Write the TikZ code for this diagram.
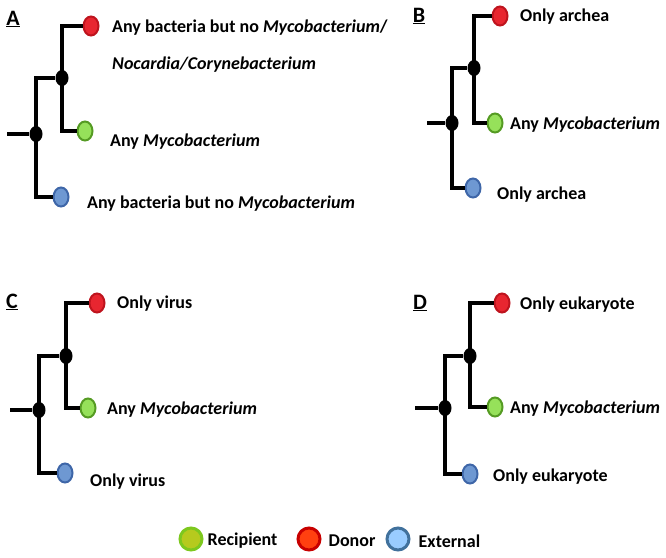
\documentclass[tikz,border=0pt]{standalone}
\usepackage{fontspec}
\setmainfont{Carlito}
\usepackage{tikz}
\usetikzlibrary{positioning, shapes.geometric}
\definecolor{donorfill}{RGB}{232,38,48}
\definecolor{donordraw}{RGB}{190,20,30}
\definecolor{recipfill}{RGB}{150,225,90}
\definecolor{recipdraw}{RGB}{85,155,35}
\definecolor{extfill}{RGB}{110,152,210}
\definecolor{extdraw}{RGB}{62,102,168}
\definecolor{keyrecipfill}{RGB}{182,202,30}
\definecolor{keyrecipdraw}{RGB}{125,200,30}
\definecolor{keydonorfill}{RGB}{255,64,16}
\definecolor{keydonordraw}{RGB}{200,0,0}
\definecolor{keyextfill}{RGB}{153,204,255}
\definecolor{keyextdraw}{RGB}{65,113,156}
\tikzstyle{Branch} = [
    line width = 3.8pt,
    line cap = butt
]

\begin{document}
\begin{tikzpicture}[
x=1pt, y=-1pt,
font=\fontsize{18}{20}\selectfont\bfseries,
dot/.style={
    ellipse,
    fill = black,
    inner sep = 0pt,
    minimum width = 13pt,
    minimum height = 16pt
    },
leaf/.style={
    ellipse,
    draw = #1draw,
    fill = #1fill,
    line width = 2pt,
    inner sep = 0pt,
    minimum width = 15pt,
    minimum height = 19pt
    },
tag/.style={anchor = west, inner sep = 0pt, yshift = -2pt},
panel/.style={font=\fontsize{22}{22}\selectfont\bfseries, inner sep = 0pt},
key/.style={
    circle,
    draw = key#1draw,
    fill = key#1fill,
    line width = 3pt,
    inner sep = 0pt,
    minimum size = 22pt
    }
]
\useasboundingbox (0,0) rectangle (666,557);

% A
\node [panel] (A) at (13,19) {\underline{A}};
\coordinate (A0) at (7,134);
\node [dot] (A1) at (36,134) {};
\node [dot] (A2) at (62,78) {};
\node [leaf=donor] (A3) at (91,26) {};
\node [leaf=recip] (A4) at (85,131) {};
\node [leaf=ext] (A5) at (61,197) {};
\node [tag, align=left, font=\fontsize{18}{37}\selectfont\bfseries] (A6) at (112,44) {Any bacteria but no \textit{Mycobacterium}/\\\textit{Nocardia/Corynebacterium}};
\node [tag] (A7) at (110,140) {Any \textit{Mycobacterium}};
\node [tag] (A8) at (87,202) {Any bacteria but no \textit{Mycobacterium}};

\draw[Branch] (A0) -- (A1.west);
\draw[Branch] (A1.center) |- (A2.west);
\draw[Branch] (A1.center) |- (A5.west);
\draw[Branch] (A2.center) |- (A3.west);
\draw[Branch] (A2.center) |- (A4.west);

% B
\node [panel] (B) at (419,16) {\underline{B}};
\coordinate (B0) at (427,123);
\node [dot] (B1) at (452,123) {};
\node [dot] (B2) at (474,68) {};
\node [leaf=donor] (B3) at (500,16) {};
\node [leaf=recip] (B4) at (495,123) {};
\node [leaf=ext] (B5) at (473,188) {};
\node [tag] (B6) at (520,15) {Only archea};
\node [tag] (B7) at (510,123) {Any \textit{Mycobacterium}};
\node [tag] (B8) at (497,193) {Only archea};

\draw[Branch] (B0) -- (B1.west);
\draw[Branch] (B1.center) |- (B2.west);
\draw[Branch] (B1.center) |- (B5.west);
\draw[Branch] (B2.center) |- (B3.west);
\draw[Branch] (B2.center) |- (B4.west);

% C
\node [panel] (C) at (12,302) {\underline{C}};
\coordinate (C0) at (10,410);
\node [dot] (C1) at (39,410) {};
\node [dot] (C2) at (66,356) {};
\node [leaf=donor] (C3) at (97,303) {};
\node [leaf=recip] (C4) at (88,408) {};
\node [leaf=ext] (C5) at (65,473) {};
\node [tag] (C6) at (117,302) {Only virus};
\node [tag] (C7) at (107,408) {Any \textit{Mycobacterium}};
\node [tag] (C8) at (90,480) {Only virus};

\draw[Branch] (C0) -- (C1.west);
\draw[Branch] (C1.center) |- (C2.west);
\draw[Branch] (C1.center) |- (C5.west);
\draw[Branch] (C2.center) |- (C3.west);
\draw[Branch] (C2.center) |- (C4.west);

% D
\node [panel] (D) at (420,303) {\underline{D}};
\coordinate (D0) at (415,408);
\node [dot] (D1) at (445,408) {};
\node [dot] (D2) at (470,356) {};
\node [leaf=donor] (D3) at (502,303) {};
\node [leaf=recip] (D4) at (495,407) {};
\node [leaf=ext] (D5) at (470,474) {};
\node [tag] (D6) at (520,303) {Only eukaryote};
\node [tag] (D7) at (510,407) {Any \textit{Mycobacterium}};
\node [tag] (D8) at (493,475) {Only eukaryote};

\draw[Branch] (D0) -- (D1.west);
\draw[Branch] (D1.center) |- (D2.west);
\draw[Branch] (D1.center) |- (D5.west);
\draw[Branch] (D2.center) |- (D3.west);
\draw[Branch] (D2.center) |- (D4.west);

% legend
\node [key=recip] (k1) at (191,539) {};
\node [tag, right = 4pt of k1] (k2) {Recipient};
\node [key=donor] (k3) at (309,539) {};
\node [tag, right = 7pt of k3] (k4) {Donor};
\node [key=ext] (k5) at (398,539) {};
\node [tag, right = 8pt of k5] (k6) {External};

\end{tikzpicture}
\end{document}
